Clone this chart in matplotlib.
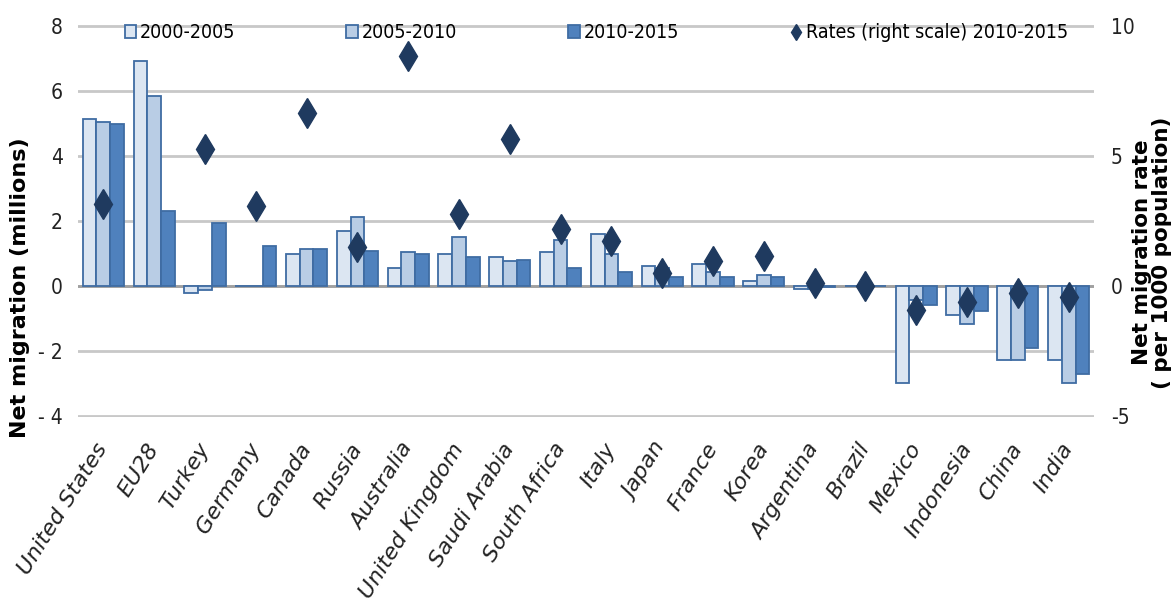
import numpy as np
import matplotlib
matplotlib.use('Agg')
import matplotlib.pyplot as plt

plt.rcParams['axes.unicode_minus'] = False
plt.rcParams['font.family'] = ['DejaVu Sans']

# data
countries = ['United States', 'EU28', 'Turkey', 'Germany', 'Canada', 'Russia',
             'Australia', 'United Kingdom', 'Saudi Arabia', 'South Africa', 'Italy',
             'Japan', 'France', 'Korea', 'Argentina', 'Brazil', 'Mexico',
             'Indonesia', 'China', 'India']
p2000_2005 = [5.14, 6.92, -0.20, 0.0, 0.97, 1.68, 0.54, 0.98, 0.88, 1.05, 1.59,
              0.61, 0.69, 0.16, -0.10, 0.0, -2.98, -0.89, -2.27, -2.27]
p2005_2010 = [5.06, 5.85, -0.12, 0.0, 1.15, 2.12, 1.05, 1.51, 0.77, 1.41, 0.97,
              0.55, 0.42, 0.35, -0.08, 0.0, -0.43, -1.16, -2.27, -2.98]
p2010_2015 = [4.98, 2.31, 1.95, 1.22, 1.15, 1.07, 0.97, 0.88, 0.80, 0.54, 0.44,
              0.27, 0.27, 0.27, -0.03, 0.0, -0.58, -0.76, -1.91, -2.70]
rates = [3.17, np.nan, 5.27, 3.06, 6.67, 1.50, 8.84, 2.78, 5.67, 2.21, 1.73,
         0.51, 0.96, 1.15, 0.10, 0.0, -0.92, -0.60, -0.28, -0.41]

c1, c2, c3 = '#dce6f2', '#b9cde5', '#4f81bd'
edge = '#3f6ca3'
navy = '#1f3a5f'

fig = plt.figure(figsize=(11.74, 6.04), dpi=100)
ax = fig.add_axes([0.0664, 0.3096, 0.8655, 0.649])
ax2 = ax.twinx()

x = np.arange(len(countries))
w = 0.27
b1 = ax.bar(x - w, p2000_2005, w, color=c1, edgecolor=edge, linewidth=1.3, zorder=3)
b2 = ax.bar(x, p2005_2010, w, color=c2, edgecolor=edge, linewidth=1.3, zorder=3)
b3 = ax.bar(x + w, p2010_2015, w, color=c3, edgecolor=edge, linewidth=1.3, zorder=3)

# diamonds go on the right axis, kept above the bars
ax2.set_zorder(ax.get_zorder() + 1)
ax2.patch.set_visible(False)
d, = ax2.plot(x, rates, linestyle='none', marker='d', markersize=15, color=navy, zorder=4)

# small margin so the outer gridlines are not clipped; right scale = 1.25 x left
m = 0.03
ax.set_xlim(-0.5, len(countries) - 0.5)
ax.set_ylim(-4 - m, 8 + m)
ax2.set_ylim((-4 - m) * 1.25, (8 + m) * 1.25)
ax.set_yticks(range(-4, 9, 2))
ax.set_yticklabels(['- 4', '- 2', '0', '2', '4', '6', '8'])
ax2.set_yticks([-5, 0, 5, 10])

for a in (ax, ax2):
    for s in a.spines.values():
        s.set_visible(False)
    a.tick_params(length=0, labelsize=15, colors='#222222')
    for t in a.get_yticklabels():
        t.set_fontstretch('condensed')
ax.tick_params(axis='y', pad=11)
ax2.tick_params(axis='y', pad=12)

ax.yaxis.grid(True, color='#c8c8c8', linewidth=2, zorder=0)
ax.axhline(0, color='#a0a0a0', linewidth=2, zorder=2)
ax.set_axisbelow(True)

ax.set_xticks(x)
ax.set_xticklabels(countries, rotation=58, ha='right', va='center', rotation_mode='anchor',
                   fontsize=16, style='italic')
ax.tick_params(axis='x', pad=20)

ax.set_ylabel('Net migration (millions)', fontsize=16, fontweight='bold', va='center')
ax.yaxis.set_label_coords(-0.057, 0.33)
ax2.set_ylabel('Net migration rate\n( per 1000 population)', fontsize=15.5,
               fontweight='bold', linespacing=0.95, rotation=90, va='center')
ax2.yaxis.set_label_coords(1.057, 0.42)

leg = ax.legend([b1, b2, b3, d], ['2000-2005', '2005-2010', '2010-2015', 'Rates (right scale) 2010-2015'],
                ncol=4, loc='center', bbox_to_anchor=(0.046, 0.94, 0.928, 0.08), mode='expand',
                borderaxespad=0, borderpad=0, frameon=False,
                prop={'size': 14, 'stretch': 'condensed'}, handlelength=0.6,
                handletextpad=0.2, markerscale=0.55)

fig.savefig('out.png', dpi=100)
